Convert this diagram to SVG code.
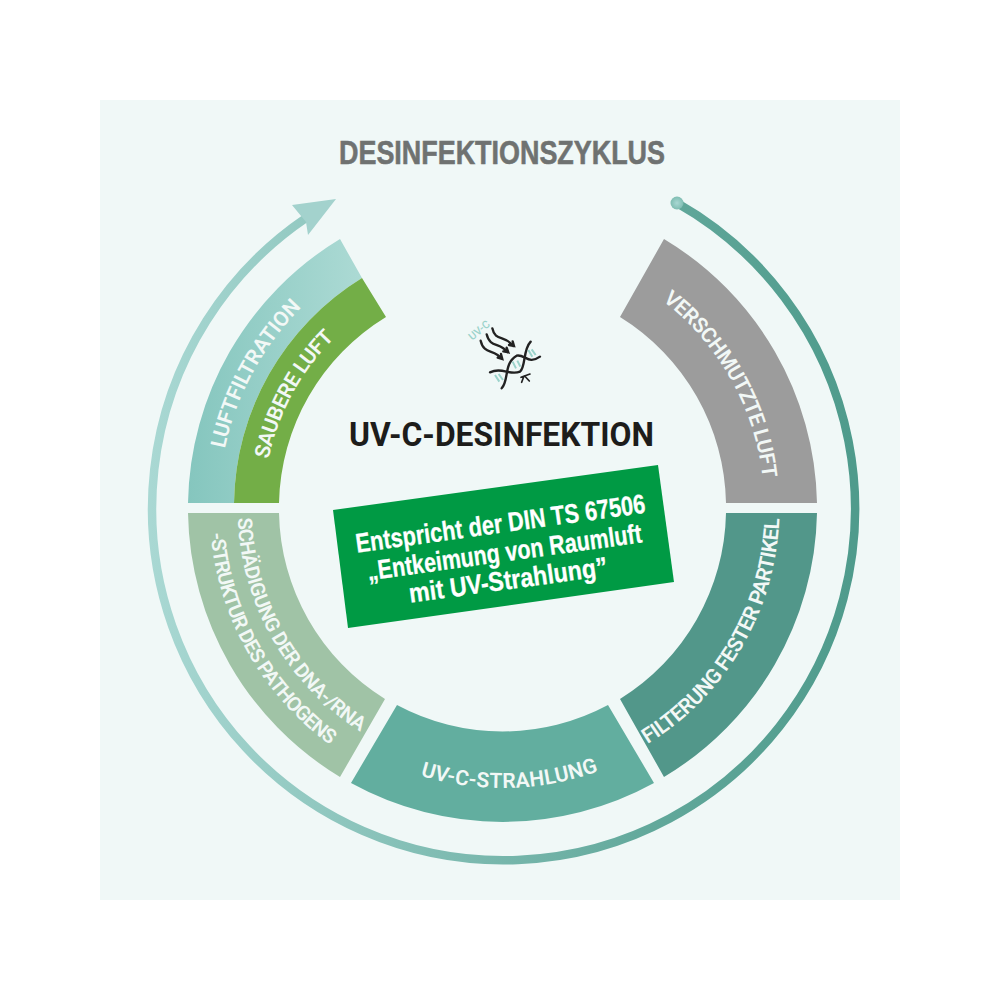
<svg xmlns="http://www.w3.org/2000/svg" width="1000" height="1000" viewBox="0 0 1000 1000">
<style>
.seg{stroke:none}
.band{font-family:Roboto,"Liberation Sans",sans-serif;font-weight:600;fill:#f2f8f6;font-size:21px}
.bx{font-family:"Liberation Sans",Arial,sans-serif;font-weight:700;fill:#fff;font-size:27px;text-anchor:middle;stroke:#fff;stroke-width:.3}
.ic{fill:none;stroke:#222;stroke-width:7;stroke-linecap:round}
.rg{fill:none;stroke:#9bd3cb;stroke-width:6}
</style>
<defs>
<linearGradient id="gLight" gradientUnits="userSpaceOnUse" x1="188" y1="0" x2="362" y2="0"><stop offset="0" stop-color="#85c6be"/><stop offset="1" stop-color="#acdad4"/></linearGradient>
<linearGradient id="gRing" gradientUnits="userSpaceOnUse" x1="853" y1="0" x2="150" y2="0"><stop offset="0" stop-color="#4f9b8c"/><stop offset="0.3" stop-color="#63a99c"/><stop offset="1" stop-color="#a9d8d3"/></linearGradient>
<radialGradient id="gBall"><stop offset="0" stop-color="#a9d8d3"/><stop offset="1" stop-color="#7fbdb2"/></radialGradient>
<path id="pLuft" d="M218.5,508A284,284 0 0 1 347.8,269.8"/>
<path id="pSaub" d="M263.5,505.9A239,239 0 0 1 370.6,308.7"/>
<path id="pVers" d="M615.3,271.5A262,262 0 0 1 763.3,533.1"/>
<path id="pFilt" d="M595.7,768.9A277,277 0 0 0 775.6,461.6"/>
<path id="pUvc" d="M368.9,754.1A280,280 0 0 0 648.8,746.7"/>
<path id="pL1" d="M241.7,461.1A265,265 0 0 0 411,756.7"/>
<path id="pL2" d="M213.8,457.9A293,293 0 0 0 403,783.6"/>
</defs>
<rect width="1000" height="1000" fill="#fff"/>
<rect x="100" y="100" width="800" height="800" fill="#f0f8f7"/>
<text id="title" x="502" y="164" text-anchor="middle" font-family="'Liberation Sans',Arial,sans-serif" font-weight="700" font-size="34" fill="#6f7271" stroke="#6f7271" stroke-width=".6" textLength="326" lengthAdjust="spacingAndGlyphs">DESINFEKTIONSZYKLUS</text>
<g id="connectors">
<path d="M677,203A351.5,351.5 0 1 1 306,218" fill="none" stroke="url(#gRing)" stroke-width="8.5"/>
<circle cx="677" cy="203" r="6.5" fill="url(#gBall)"/>
<path d="M336,199L292,205L306,222L308,235Z" fill="#a3d2cd"/>
</g>
<g id="node-luftfiltration">
<path class="seg" fill="url(#gLight)" d="M188,503A314.5,314.5 0 0 1 340,239L362,278A268.5,268.5 0 0 0 234,503Z"/>
<text class="band"><textPath href="#pLuft" startOffset="50%" text-anchor="middle">LUFTFILTRATION</textPath></text>
</g>
<g id="node-saubere-luft">
<path class="seg" fill="#73ae47" d="M234,503A268.5,268.5 0 0 1 362,278L386,317A223.5,223.5 0 0 0 279,503Z"/>
<text class="band" letter-spacing="-.5"><textPath href="#pSaub" startOffset="50%" text-anchor="middle">SAUBERE LUFT</textPath></text>
</g>
<g id="node-verschmutzte-luft">
<path class="seg" fill="#9c9c9c" d="M664,239A314.5,314.5 0 0 1 817,503L726,503A223.5,223.5 0 0 0 620,317Z"/>
<text class="band" letter-spacing="-.5"><textPath href="#pVers" startOffset="50%" text-anchor="middle">VERSCHMUTZTE LUFT</textPath></text>
</g>
<g id="node-filterung">
<path class="seg" fill="#52978a" d="M817,513A314.5,314.5 0 0 1 664,777L620,699A223.5,223.5 0 0 0 726,513Z"/>
<text class="band" letter-spacing="-.6"><textPath href="#pFilt" startOffset="50%" text-anchor="middle">FILTERUNG FESTER PARTIKEL</textPath></text>
</g>
<g id="node-uvc-strahlung">
<path class="seg" fill="#62ae9f" d="M351,783A314.5,314.5 0 0 0 654,783L608,705A223.5,223.5 0 0 1 397,705Z"/>
<text class="band" letter-spacing=".3"><textPath href="#pUvc" startOffset="50%" text-anchor="middle">UV-C-STRAHLUNG</textPath></text>
</g>
<g id="node-schaedigung">
<path class="seg" fill="#a0c3a6" d="M188,513A314.5,314.5 0 0 0 340,777L385,699A223.5,223.5 0 0 1 279,513Z"/>
<text class="band" style="font-size:20px" letter-spacing="-.6"><textPath href="#pL1" startOffset="50%" text-anchor="middle">SCHÄDIGUNG DER DNA-/RNA</textPath></text>
<text class="band" style="font-size:20px" letter-spacing="-.9"><textPath href="#pL2" startOffset="49%" text-anchor="middle">-STRUKTUR DES PATHOGENS</textPath></text>
</g>
<g id="icon" transform="translate(440,300) scale(.3333)">
<text transform="translate(97,122) rotate(-40)" font-family="Roboto,sans-serif" font-weight="500" font-size="32" fill="#9bd3cb">UV-C</text>
<path class="ic" d="M157,85C165,125 195,105 220,138M207,135L222,138L218,124"/>
<path class="ic" d="M140,103C150,145 180,125 203,157M190,154L205,157L200,143"/>
<path class="ic" d="M122,122C132,165 160,145 187,177M173,173L187,177L183,162"/>
<path class="ic" d="M150,217C185,200 210,228 240,215C258,200 248,150 272,125"/>
<path class="ic" d="M185,265C208,240 190,190 230,167C255,162 265,195 300,170"/>
<path class="rg" d="M165,225L178,245M176,222L189,240M218,185L228,205M232,182L241,200M265,150L277,170M275,148L287,165"/>
<path class="ic" style="stroke-width:5" d="M243,232L270,222M245,247L252,228M268,243L254,228"/>
</g>
<g id="node-heading">
<text x="501.5" y="446" text-anchor="middle" font-family="Roboto,'Liberation Sans',sans-serif" font-weight="700" font-size="33" fill="#1d1d1b" textLength="305" lengthAdjust="spacingAndGlyphs">UV-C-DESINFEKTION</text>
</g>
<g id="node-din">
<path d="M333,510L658,465L674,582L348,628Z" fill="#009a44"/>
<g transform="translate(503.5,546.5) rotate(-7.9)">
<text class="bx" y="-14" textLength="292" lengthAdjust="spacingAndGlyphs">Entspricht der DIN TS 67506</text>
<text class="bx" y="15" textLength="277" lengthAdjust="spacingAndGlyphs">„Entkeimung von Raumluft</text>
<text class="bx" y="43" textLength="200" lengthAdjust="spacingAndGlyphs">mit UV-Strahlung”</text>
</g>
</g>
</svg>
